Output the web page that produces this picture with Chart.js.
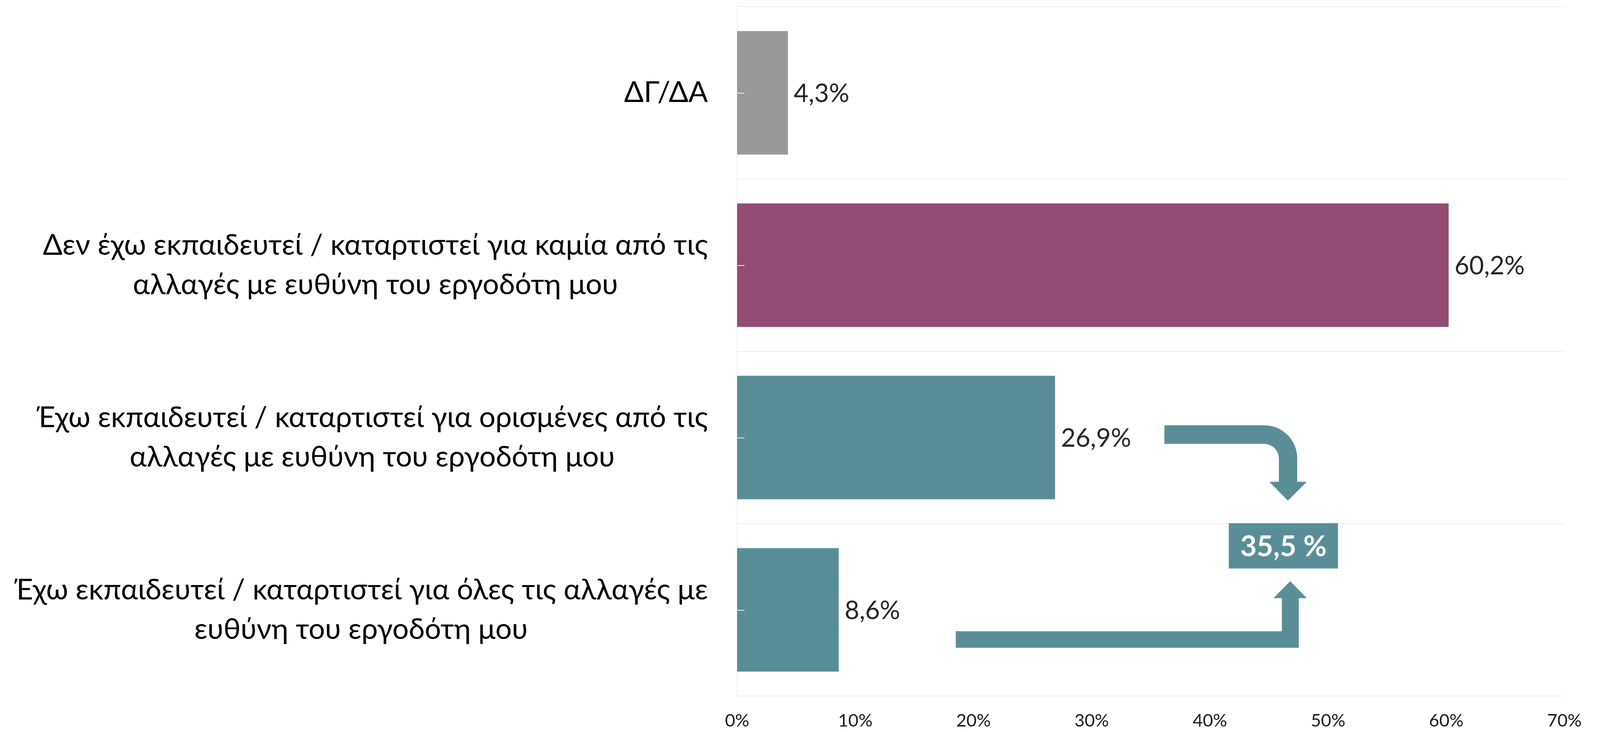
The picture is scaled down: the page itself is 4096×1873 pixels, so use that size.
<!DOCTYPE html>
<html>
<head>
<meta charset="utf-8">
<script src="https://cdn.jsdelivr.net/npm/chart.js@4/dist/chart.umd.min.js"></script>
<style>
  html, body { margin: 0; padding: 0; background: #ffffff; }
  #wrap { width: 4096px; height: 1873px; }
</style>
</head>
<body>
<div id="wrap"><canvas id="chart" width="4096" height="1873"></canvas></div>
<script>
// categories (one array of lines per bar)
const categories = [
  ['ΔΓ/ΔΑ'],
  ['Δεν έχω εκπαιδευτεί / καταρτιστεί για καμία από τις', 'αλλαγές με ευθύνη του εργοδότη μου'],
  ['Έχω εκπαιδευτεί / καταρτιστεί για ορισμένες από τις', 'αλλαγές με ευθύνη του εργοδότη μου'],
  ['Έχω εκπαιδευτεί / καταρτιστεί για όλες τις αλλαγές με', 'ευθύνη του εργοδότη μου']
];
const values = [4.3, 60.2, 26.9, 8.6];
const xTickLabels = ['0%', '10%', '20%', '30%', '40%', '50%', '60%', '70%'];
// the two "trained" answers summed in the callout box
const summedIdx = [2, 3];

const barColors = ['#999999', '#924C74', '#5A8E97', '#5A8E97'];
const TEAL = '#5A8E97';
const FONT = 'Lato, "Noto Sans", sans-serif';
const S = 0.94;

const fmt = v => v.toFixed(1).replace('.', ',');

// category labels: each label right aligned as a block, its lines centred
const catLabels = {
  id: 'catLabels',
  afterDraw(chart) {
    const ctx = chart.ctx;
    const y = chart.scales.y;
    const xRight = 1928 * S;
    const lh = 108 * S;
    ctx.save();
    ctx.font = `${Math.round(79 * S)}px ${FONT}`;
    ctx.fillStyle = '#000000';
    ctx.textAlign = 'center';
    ctx.textBaseline = 'middle';
    categories.forEach((lines, i) => {
      const yc = y.getPixelForTick(i);
      const widest = Math.max(...lines.map(l => ctx.measureText(l).width));
      const xc = xRight - widest / 2;
      lines.forEach((l, j) => {
        ctx.fillText(l, xc, yc + (j - (lines.length - 1) / 2) * lh);
      });
    });
    ctx.restore();
  }
};

// value labels, little inner tick marks
const barLabels = {
  id: 'barLabels',
  afterDatasetsDraw(chart) {
    const ctx = chart.ctx;
    const meta = chart.getDatasetMeta(0);
    const left = chart.chartArea.left;
    ctx.save();
    ctx.strokeStyle = '#f2f2f2';
    ctx.lineWidth = 2;
    meta.data.forEach(bar => {
      ctx.beginPath();
      ctx.moveTo(left, Math.round(bar.y) + 0.5);
      ctx.lineTo(left + 19, Math.round(bar.y) + 0.5);
      ctx.stroke();
    });
    ctx.font = `${Math.round(69 * S)}px ${FONT}`;
    ctx.fillStyle = '#262626';
    ctx.textAlign = 'left';
    ctx.textBaseline = 'middle';
    meta.data.forEach((bar, i) => {
      ctx.fillText(fmt(values[i]) + '%', bar.x + 15, bar.y + 3);
    });
    ctx.restore();
  }
};

// arrows and the summed callout, placed in data units (x in %, y in category index)
const callout = {
  id: 'callout',
  afterDraw(chart) {
    const ctx = chart.ctx;
    const X = v => chart.scales.x.getPixelForValue(v);
    const Y = v => chart.scales.y.getPixelForValue(v);
    ctx.save();
    ctx.fillStyle = TEAL;

    // upper bent arrow
    const rOut = X(47.39) - X(44.6);
    const rIn = X(45.84) - X(44.6);
    ctx.beginPath();
    ctx.moveTo(X(36.15), Y(1.929));
    ctx.lineTo(X(44.6), Y(1.929));
    ctx.arcTo(X(47.39), Y(1.929), X(47.39), Y(2.3), rOut);
    ctx.lineTo(X(47.39), Y(2.257));
    ctx.lineTo(X(48.2), Y(2.257));
    ctx.lineTo(X(46.6), Y(2.366));
    ctx.lineTo(X(45.03), Y(2.257));
    ctx.lineTo(X(45.84), Y(2.257));
    ctx.arcTo(X(45.84), Y(2.037), X(44.6), Y(2.037), rIn);
    ctx.lineTo(X(36.15), Y(2.037));
    ctx.closePath();
    ctx.fill();

    // lower elbow arrow
    ctx.beginPath();
    ctx.moveTo(X(18.5), Y(3.124));
    ctx.lineTo(X(46.09), Y(3.124));
    ctx.lineTo(X(46.09), Y(2.932));
    ctx.lineTo(X(45.37), Y(2.932));
    ctx.lineTo(X(46.8), Y(2.834));
    ctx.lineTo(X(48.2), Y(2.932));
    ctx.lineTo(X(47.52), Y(2.932));
    ctx.lineTo(X(47.52), Y(3.220));
    ctx.lineTo(X(18.5), Y(3.220));
    ctx.closePath();
    ctx.fill();

    // box
    const bx0 = X(41.6), bx1 = X(50.84), by0 = Y(2.497), by1 = Y(2.760);
    ctx.fillRect(bx0, by0, bx1 - bx0, by1 - by0);
    const total = summedIdx.reduce((s, i) => s + values[i], 0);
    ctx.font = `bold ${Math.round(78 * S)}px ${FONT}`;
    ctx.fillStyle = '#ffffff';
    ctx.textAlign = 'center';
    ctx.textBaseline = 'middle';
    ctx.fillText(fmt(total) + ' %', (bx0 + bx1) / 2, (by0 + by1) / 2 + 3);
    ctx.restore();
  }
};

new Chart(document.getElementById('chart').getContext('2d'), {
  type: 'bar',
  data: {
    labels: categories,
    datasets: [{
      data: values,
      backgroundColor: barColors,
      borderWidth: 0,
      categoryPercentage: 1,
      barPercentage: 0.716
    }]
  },
  options: {
    indexAxis: 'y',
    responsive: false,
    animation: false,
    events: [],
    layout: { padding: { left: 0, right: 91, top: 17, bottom: 0 } },
    plugins: { legend: { display: false }, tooltip: { enabled: false } },
    scales: {
      x: {
        min: 0,
        max: 70,
        ticks: {
          stepSize: 10,
          padding: 36,
          color: '#1a1a1a',
          font: { family: FONT, size: 45 },
          callback: (v, i) => xTickLabels[i]
        },
        grid: { display: false, drawTicks: false },
        border: { display: false },
        afterFit: s => { s.height = 92; }
      },
      y: {
        offset: true,
        ticks: { display: false },
        grid: { color: '#eeeeee', lineWidth: 2, offset: true, drawTicks: false },
        border: { display: true, color: '#eeeeee', width: 2 },
        afterFit: s => { s.width = 1887; }
      }
    }
  },
  plugins: [catLabels, barLabels, callout]
});
</script>
</body>
</html>
